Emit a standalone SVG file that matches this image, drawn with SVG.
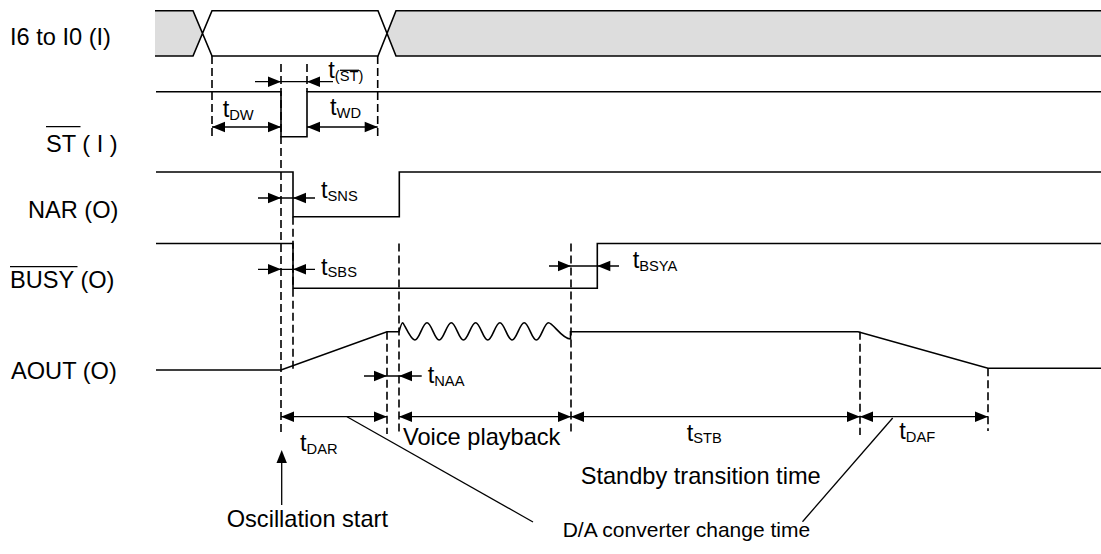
<svg xmlns="http://www.w3.org/2000/svg" xmlns:xlink="http://www.w3.org/1999/xlink" width="1101" height="554" viewBox="0 0 1101 554">
<style>
.sig{fill:none;stroke:#000;stroke-width:1.6}
.dash{fill:none;stroke:#000;stroke-width:1.6;stroke-dasharray:8,4}
.ln{fill:none;stroke:#000;stroke-width:1.3}
text{font-family:"Liberation Sans",Arial,sans-serif;font-size:23.6px;fill:#000}
.sub{font-size:14.7px}
</style>
<defs>
<path id="ah" d="M0,0 L-13,-5.2 L-13,5.2 Z" fill="#000"/>
</defs>
<rect width="1101" height="554" fill="#fff"/>

<g id="sig-i6i0">
<polygon points="155,10.7 193,10.7 202.5,33.3 193,56 155,56" fill="#dddddd"/>
<polygon points="1101,10.7 396,10.7 386.8,33.3 396,56 1101,56" fill="#dddddd"/>
<path class="sig" d="M155,10.7 H193 L212,56 H378 L396,10.7 H1101 M155,56 H193 L212,10.7 H378 L396,56 H1101"/>
<text x="10" y="45">I6 to I0 (I)</text>
</g>

<g id="sig-st">
<path class="sig" d="M156,91.7 H281 V136.7 H307 V91.7 H1101"/>
<text x="46" y="151.5">ST ( I )</text>
<line class="ln" x1="46" y1="126.7" x2="80.5" y2="126.7"/>
</g>

<g id="sig-nar">
<path class="sig" d="M156,172 H293 V216.7 H399.3 V172 H1101"/>
<text x="28" y="218">NAR (O)</text>
</g>

<g id="sig-busy">
<path class="sig" d="M156,243.5 H293 V288.3 H597.3 V243.5 H1101"/>
<text x="10" y="288.3">BUSY (O)</text>
<line class="ln" x1="10" y1="266.7" x2="77.5" y2="266.7"/>
</g>

<g id="sig-aout">
<path class="sig" d="M156,370 H281 L387,331.7 H399 C400.3,327 401.5,322.7 402.7,322.7 S410.4,340 414.85,340 S422.6,322.7 427,322.7 S434.7,340 439.15,340 S446.9,322.7 451.3,322.7 S459,340 463.45,340 S471.2,322.7 475.6,322.7 S483.3,340 487.75,340 S495.5,322.7 499.9,322.7 S507.6,340 512.05,340 S519.8,322.7 524.2,322.7 S531.9,340 536.35,340 S544.1,322.7 548.5,322.7 S562,339 570.5,339 V331.7 H858 L988,368.3 H1101"/>
<text x="11" y="379">AOUT (O)</text>
</g>

<g id="guides">
<line class="dash" x1="212" y1="56" x2="212" y2="137"/>
<line class="dash" x1="377.7" y1="56" x2="377.7" y2="137"/>
<line class="dash" x1="281" y1="64" x2="281" y2="436"/>
<line class="dash" x1="307" y1="64" x2="307" y2="92"/>
<line class="dash" x1="293" y1="216.7" x2="293" y2="372"/>
<line class="dash" x1="399" y1="243.5" x2="399" y2="434"/>
<line class="dash" x1="387" y1="331.7" x2="387" y2="434"/>
<line class="dash" x1="571" y1="243.5" x2="571" y2="434"/>
<line class="dash" x1="860" y1="331.7" x2="860" y2="435"/>
<line class="dash" x1="988" y1="368.3" x2="988" y2="431"/>
</g>

<g id="connectors">
<line class="ln" x1="255" y1="81.7" x2="333" y2="81.7"/>
<use xlink:href="#ah" transform="translate(281,81.7)"/>
<use xlink:href="#ah" transform="translate(307,81.7) rotate(180)"/>
<line class="ln" x1="212" y1="127" x2="281" y2="127"/>
<use xlink:href="#ah" transform="translate(212,127) rotate(180)"/>
<use xlink:href="#ah" transform="translate(281,127)"/>
<line class="ln" x1="307" y1="127" x2="377.7" y2="127"/>
<use xlink:href="#ah" transform="translate(307,127) rotate(180)"/>
<use xlink:href="#ah" transform="translate(377.7,127)"/>
<line class="ln" x1="258" y1="198" x2="315" y2="198"/>
<use xlink:href="#ah" transform="translate(281,198)"/>
<use xlink:href="#ah" transform="translate(293,198) rotate(180)"/>
<line class="ln" x1="258" y1="269.3" x2="315" y2="269.3"/>
<use xlink:href="#ah" transform="translate(281,269.3)"/>
<use xlink:href="#ah" transform="translate(293,269.3) rotate(180)"/>
<line class="ln" x1="549" y1="266" x2="619" y2="266"/>
<use xlink:href="#ah" transform="translate(571,266)"/>
<use xlink:href="#ah" transform="translate(597.3,266) rotate(180)"/>
<line class="ln" x1="364" y1="376" x2="421.7" y2="376"/>
<use xlink:href="#ah" transform="translate(387,376)"/>
<use xlink:href="#ah" transform="translate(399,376) rotate(180)"/>
<line class="ln" x1="281" y1="416.7" x2="387" y2="416.7"/>
<use xlink:href="#ah" transform="translate(281,416.7) rotate(180)"/>
<use xlink:href="#ah" transform="translate(387,416.7)"/>
<line class="ln" x1="399" y1="416.7" x2="571" y2="416.7"/>
<use xlink:href="#ah" transform="translate(399,416.7) rotate(180)"/>
<use xlink:href="#ah" transform="translate(571,416.7)"/>
<line class="ln" x1="571" y1="416.7" x2="860" y2="416.7"/>
<use xlink:href="#ah" transform="translate(571,416.7) rotate(180)"/>
<use xlink:href="#ah" transform="translate(860,416.7)"/>
<line class="ln" x1="860" y1="416.7" x2="988" y2="416.7"/>
<use xlink:href="#ah" transform="translate(860,416.7) rotate(180)"/>
<use xlink:href="#ah" transform="translate(988,416.7)"/>
<line class="ln" x1="281.7" y1="505" x2="281.7" y2="455"/>
<use xlink:href="#ah" transform="translate(281.7,450) rotate(-90)"/>
<line class="ln" x1="347" y1="416.7" x2="533" y2="522"/>
<line class="ln" x1="892.7" y1="418" x2="802.5" y2="521.7"/>
</g>

<g id="labels">
<text x="328.3" y="78">t<tspan class="sub" dy="3">(ST)</tspan></text>
<line class="ln" x1="340" y1="70.3" x2="359" y2="70.3" stroke-width="1"/>
<text x="222.7" y="117">t<tspan class="sub" dy="3">DW</tspan></text>
<text x="330" y="115">t<tspan class="sub" dy="3">WD</tspan></text>
<text x="321" y="198">t<tspan class="sub" dy="2.5">SNS</tspan></text>
<text x="321" y="275">t<tspan class="sub" dy="2">SBS</tspan></text>
<text x="632.7" y="268">t<tspan class="sub" dy="2.5">BSYA</tspan></text>
<text x="427.7" y="383">t<tspan class="sub" dy="2.5">NAA</tspan></text>
<text x="300" y="451">t<tspan class="sub" dy="2.5">DAR</tspan></text>
<text x="403" y="445">Voice playback</text>
<text x="686.7" y="440.5">t<tspan class="sub" dy="2">STB</tspan></text>
<text x="899.3" y="439">t<tspan class="sub" dy="3">DAF</tspan></text>
<text x="580.7" y="484.3">Standby transition time</text>
<text x="226.7" y="526.7">Oscillation start</text>
<text x="562.7" y="537" style="font-size:21px">D/A converter change time</text>
</g>
</svg>
